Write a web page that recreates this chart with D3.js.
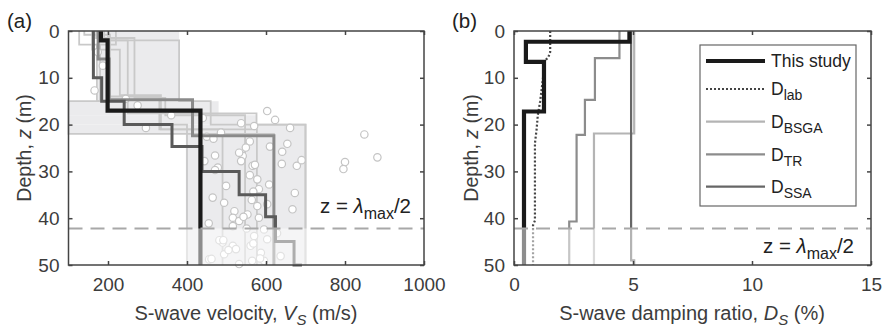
<!DOCTYPE html>
<html>
<head>
<meta charset="utf-8">
<script src="https://cdn.jsdelivr.net/npm/d3@7"></script>
<style>
    body { margin: 0; background: #fff; }
    svg { font-family: "Liberation Sans", Arial, sans-serif; }
</style>
</head>
<body>
<div id="chart"></div>
<script>
// ---- data ----
var depthTicks = [0, 10, 20, 30, 40, 50];
var vsTicks = [200, 400, 600, 800, 1000];
var dampTicks = [0, 5, 10, 15];
var halfLambdaDepth = 42.2;

// shaded range of the Vs profiles (layer top, bottom, min, max)
var envTop = [0, 15, 18, 20, 22];
var envBottom = [15, 18, 20, 22, 50];
var envMin = [174, 100, 100, 100, 397];
var envMax = [380, 480, 576, 700, 700];

// light grey candidate profiles: velocity per layer and layer bottoms
var profVs = [
    [140, 205, 330, 577],
    [170, 267, 345, 547],
    [190, 380, 460, 700],
    [160, 230, 334, 490],
    [127, 180, 100, 620],
    [220, 172, 240, 400],
    [200, 250, 576, 700]
];
var profBottom = [
    [0.8, 14, 21, 50],
    [1.5, 14.3, 18, 50],
    [2, 15, 20, 50],
    [4, 13.7, 21, 50],
    [2.9, 15, 22, 50],
    [2.9, 15, 20, 50],
    [2, 17.6, 20, 50]
];

// measured Vs points
var pointVs = [174, 187, 166, 245, 275, 296, 360, 440, 537, 486, 603, 623, 570, 661, 450, 467, 559, 654, 610, 549,
    641, 471, 541, 849, 882, 800, 796, 640, 678, 690, 566, 444, 478, 532, 537, 673, 667, 578, 582, 608,
    603, 578, 553, 582, 595, 570, 603, 628, 561, 587, 565, 595, 637, 465, 499, 494, 520, 516, 532, 516,
    455, 490, 516, 494, 456, 532, 524, 462, 482, 471, 543, 564, 568, 559, 572, 568, 505, 492, 585, 551];
var pointZ = [4.5, 7.4, 12.7, 14.5, 15.9, 20.7, 18, 18.6, 19.7, 21.7, 17.1, 19, 20.3, 20.7, 22.6, 23, 23.6, 24.1, 24.7, 24.9,
    25.8, 26.6, 26.7, 22.1, 27, 28, 29.5, 28.4, 28.8, 27.6, 28.8, 27.8, 29.2, 26, 27.8, 34.6, 38.1, 31.7, 33.8, 32.8,
    37, 37.4, 39.2, 39.9, 42.4, 43.8, 44.5, 43.2, 45.9, 47.4, 49.1, 49.1, 48.1, 35.6, 33.1, 36.7, 38.5, 39.9, 40.6, 41.7,
    41.1, 45.2, 45.9, 47.7, 48.8, 49.8, 46.6, 48.7, 44.7, 29.7, 39.7, 36.1, 34.3, 30.8, 28.6, 45.4, 46.8, 44.7, 48.6, 42.2];

// Vs profiles drawn in strong colours
var studyVs = [182, 199, 434];
var studyBottom = [2, 17, 50];
var darkVs = [163, 184, 241, 362, 438, 532, 599, 624, 671, 691];
var darkBottom = [10, 15, 20, 24.7, 30, 35, 39.7, 45, 50, 50];
var midVs = [175, 203, 414, 620];
var midBottom = [6, 14.7, 22.4, 50];

// damping profiles (%)
var studyD = [4.85, 0.5, 1.26, 0.42];
var studyDBottom = [2.3, 6.6, 17.2, 50];
var bsgaD = [5.05, 3.36];
var bsgaBottom = [21.9, 50];
var trD = [4.43, 3.4, 2.98, 2.63, 2.32];
var trBottom = [5.8, 14.7, 22.2, 40.7, 50];
var ssaD = [4.92, 5.05];
var ssaBottom = [49, 50];
var labD = [1.52, 1.52, 1.45, 1.27, 1.22, 1.1, 1.0, 0.95, 0.88, 0.88, 0.8, 0.8];
var labZ = [0, 4.5, 5.5, 6.6, 10, 15, 18, 21, 24, 40.5, 41.5, 50];

var legendNames = ['This study', 'D', 'D', 'D', 'D'];
var legendSubs = ['', 'lab', 'BSGA', 'TR', 'SSA'];

// ---- layout ----
var svg = d3.select('#chart').append('svg').attr('width', 882).attr('height', 329);
var y = d3.scaleLinear().domain([0, 50]).range([31, 265]);
var xA = d3.scaleLinear().domain([100, 1000]).range([68.5, 424]);
var xB = d3.scaleLinear().domain([0, 15]).range([514, 871]);
var textColor = '#3c3c3c';
var axisColor = '#444';

function stepPoints(vals, bottoms) {
    var pts = [];
    var top = 0;
    vals.forEach(function (v, i) {
        pts.push([v, top]);
        pts.push([v, bottoms[i]]);
        top = bottoms[i];
    });
    return pts;
}

function lineFor(x) {
    return d3.line().x(d => x(d[0])).y(d => y(d[1]));
}

drawPanelA();
drawPanelB();
drawFrame(xA, vsTicks);
drawFrame(xB, dampTicks);
drawLabels();

function drawPanelA() {
    let g = svg.append('g');
    let line = lineFor(xA);

    g.selectAll('.env').data(envTop).enter().append('rect')
        .attr('x', (d, i) => xA(envMin[i]))
        .attr('y', (d, i) => y(envTop[i]))
        .attr('width', (d, i) => xA(envMax[i]) - xA(envMin[i]))
        .attr('height', (d, i) => y(envBottom[i]) - y(envTop[i]))
        .attr('fill', '#ebebed');

    profVs.forEach(function (vs, i) {
        g.append('path').attr('d', line(stepPoints(vs, profBottom[i])))
            .attr('fill', 'none').attr('stroke', '#c9c9c9').attr('stroke-width', 1.8);
    });

    g.selectAll('.pt').data(pointVs).enter().append('circle')
        .attr('cx', d => xA(d))
        .attr('cy', (d, i) => y(pointZ[i]))
        .attr('r', 3.7)
        .attr('fill', '#fff')
        .attr('stroke', '#c4c4c4')
        .attr('stroke-width', 1.2);

    g.append('path').attr('d', line(stepPoints(midVs, midBottom)))
        .attr('fill', 'none').attr('stroke', '#8a8a8a').attr('stroke-width', 3);
    g.append('path').attr('d', line(stepPoints(darkVs, darkBottom)))
        .attr('fill', 'none').attr('stroke', '#5a5a5a').attr('stroke-width', 3);
    g.append('path').attr('d', line(stepPoints(studyVs, studyBottom)))
        .attr('fill', 'none').attr('stroke', '#1a1a1a').attr('stroke-width', 4.2);

    drawHalfLambda(xA, 411, 213);
}

function drawPanelB() {
    let g = svg.append('g');
    let line = lineFor(xB);

    g.append('path').attr('d', line(stepPoints(bsgaD, bsgaBottom)))
        .attr('fill', 'none').attr('stroke', '#b4b4b4').attr('stroke-width', 2.2);
    g.append('path').attr('d', line(stepPoints(trD, trBottom)))
        .attr('fill', 'none').attr('stroke', '#8c8c8c').attr('stroke-width', 2.2);
    g.append('path').attr('d', line(stepPoints(ssaD, ssaBottom)))
        .attr('fill', 'none').attr('stroke', '#666').attr('stroke-width', 2.2);
    g.append('path').attr('d', line(labD.map((d, i) => [d, labZ[i]])))
        .attr('fill', 'none').attr('stroke', '#444').attr('stroke-width', 2.2)
        .attr('stroke-dasharray', '2,2');
    g.append('path').attr('d', line(stepPoints(studyD, studyDBottom)))
        .attr('fill', 'none').attr('stroke', '#1a1a1a').attr('stroke-width', 4.2);

    drawHalfLambda(xB, 854, 253);
    drawLegend();
}

function drawHalfLambda(x, tx, ty) {
    let x0 = x.range()[0], x1 = x.range()[1];
    // region below lambda/2 is faded out
    svg.append('rect')
        .attr('x', x0).attr('y', y(halfLambdaDepth))
        .attr('width', x1 - x0).attr('height', y(50) - y(halfLambdaDepth))
        .attr('fill', '#fff').attr('opacity', 0.5);
    svg.append('line')
        .attr('x1', x0).attr('x2', x1)
        .attr('y1', y(halfLambdaDepth)).attr('y2', y(halfLambdaDepth))
        .attr('stroke', '#a8a8a8').attr('stroke-width', 2)
        .attr('stroke-dasharray', '14,8');

    let t = svg.append('text').attr('x', tx).attr('y', ty)
        .attr('text-anchor', 'end').attr('font-size', 20.5).attr('fill', '#222');
    t.append('tspan').text('z = ');
    t.append('tspan').attr('font-style', 'italic').text('λ');
    t.append('tspan').attr('font-size', 16).attr('dy', 6).text('max');
    t.append('tspan').attr('dy', -6).text('/2');
}

function drawLegend() {
    let lg = svg.append('g');
    lg.append('rect').attr('x', 700).attr('y', 45).attr('width', 156).attr('height', 161)
        .attr('fill', '#fff').attr('stroke', '#666').attr('stroke-width', 1.2);

    let rowY = [61, 89, 121.7, 154.3, 186.7];
    let colors = ['#1a1a1a', '#444', '#b4b4b4', '#8c8c8c', '#666'];
    let widths = [4.2, 2.2, 2.2, 2.2, 2.2];
    legendNames.forEach(function (name, i) {
        lg.append('line').attr('x1', 706).attr('x2', 765)
            .attr('y1', rowY[i]).attr('y2', rowY[i])
            .attr('stroke', colors[i]).attr('stroke-width', widths[i])
            .attr('stroke-dasharray', i === 1 ? '2,2' : null);
        let t = lg.append('text').attr('x', 771).attr('y', rowY[i] + 6.3)
            .attr('font-size', 17.5).attr('fill', '#222');
        t.append('tspan').text(name);
        if (legendSubs[i]) {
            t.append('tspan').attr('font-size', 14).attr('dy', 5).text(legendSubs[i]);
        }
    });
}

function drawFrame(x, xTicks) {
    let g = svg.append('g');
    let x0 = x.range()[0], x1 = x.range()[1];

    g.append('g').attr('transform', `translate(0,${y(50)})`)
        .call(d3.axisBottom(x).tickValues(xTicks).tickSize(-4).tickPadding(13).tickFormat(d3.format('d')));
    g.append('g').attr('transform', `translate(0,${y(0)})`)
        .call(d3.axisTop(x).tickValues(xTicks).tickSize(-4).tickFormat(''));
    g.append('g').attr('transform', `translate(${x0},0)`)
        .call(d3.axisLeft(y).tickValues(depthTicks).tickSize(-4).tickPadding(9));
    g.append('g').attr('transform', `translate(${x1},0)`)
        .call(d3.axisRight(y).tickValues(depthTicks).tickSize(-4).tickFormat(''));

    g.selectAll('.domain').remove();
    g.selectAll('g g').attr('font-size', 19).attr('font-family', null);
    g.selectAll('.tick line').attr('stroke', axisColor).attr('stroke-width', 1.5);
    g.selectAll('.tick text').attr('fill', textColor);

    g.append('rect').attr('x', x0).attr('y', y(0))
        .attr('width', x1 - x0).attr('height', y(50) - y(0))
        .attr('fill', 'none').attr('stroke', axisColor).attr('stroke-width', 1.5);
}

function drawLabels() {
    // panel tags
    svg.append('text').attr('x', 7).attr('y', 28).attr('font-size', 20.5).attr('fill', '#222').text('(a)');
    svg.append('text').attr('x', 452).attr('y', 28).attr('font-size', 20.5).attr('fill', '#222').text('(b)');

    // x titles
    let ta = svg.append('text').attr('x', 246).attr('y', 320).attr('text-anchor', 'middle')
        .attr('font-size', 20).attr('fill', textColor);
    ta.append('tspan').text('S-wave velocity, ');
    ta.append('tspan').attr('font-style', 'italic').text('V');
    ta.append('tspan').attr('font-style', 'italic').attr('font-size', 15).attr('dy', 5).text('S');
    ta.append('tspan').attr('dy', -5).text(' (m/s)');

    let tb = svg.append('text').attr('x', 692).attr('y', 320).attr('text-anchor', 'middle')
        .attr('font-size', 20).attr('fill', textColor);
    tb.append('tspan').text('S-wave damping ratio, ');
    tb.append('tspan').attr('font-style', 'italic').text('D');
    tb.append('tspan').attr('font-style', 'italic').attr('font-size', 15).attr('dy', 5).text('S');
    tb.append('tspan').attr('dy', -5).text(' (%)');

    // y titles
    [31, 477.5].forEach(function (px) {
        let t = svg.append('text').attr('text-anchor', 'middle')
            .attr('transform', `translate(${px},${(y(0) + y(50)) / 2}) rotate(-90)`)
            .attr('font-size', 19.5).attr('fill', textColor);
        t.append('tspan').text('Depth, ');
        t.append('tspan').attr('font-style', 'italic').text('z');
        t.append('tspan').text(' (m)');
    });
}
</script>
</body>
</html>
